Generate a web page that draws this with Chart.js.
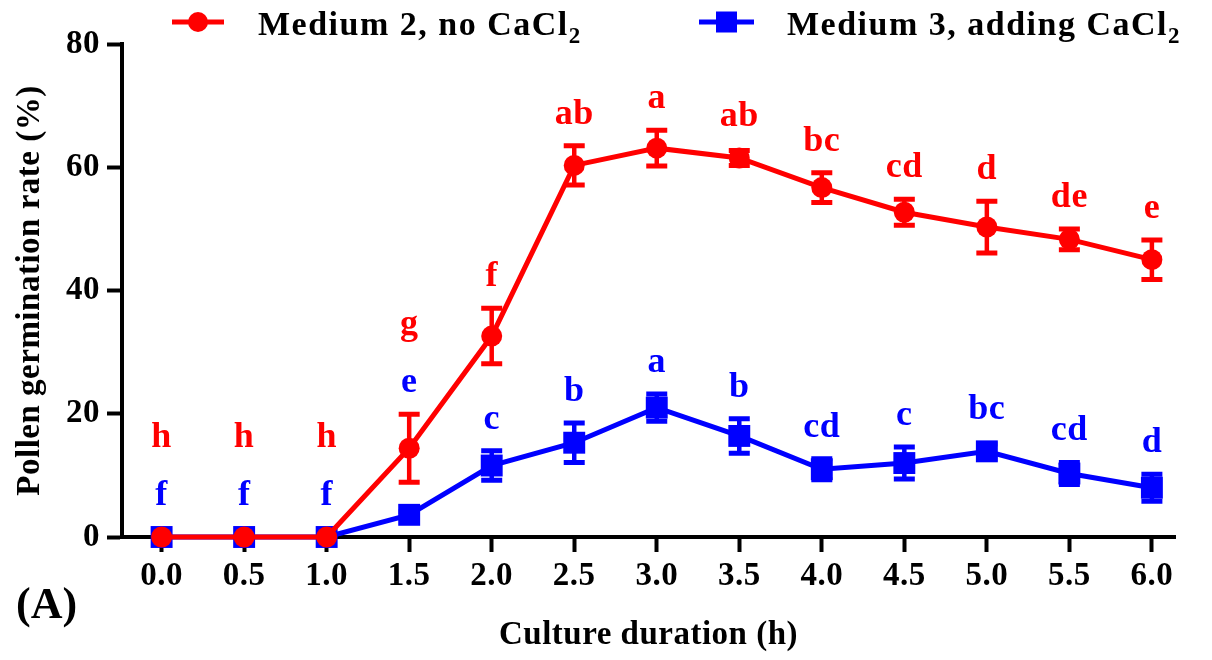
<!DOCTYPE html>
<html>
<head>
<meta charset="utf-8">
<script src="https://cdn.jsdelivr.net/npm/chart.js@4.4.1/dist/chart.umd.min.js"></script>
<style>
  html, body { margin: 0; padding: 0; background: #fff; }
  #wrap { width: 1212px; height: 660px; position: relative; }
</style>
</head>
<body>
<div id="wrap"><canvas id="c"></canvas></div>
<script>
// ---- data ----
const times = [0, 0.5, 1.0, 1.5, 2.0, 2.5, 3.0, 3.5, 4.0, 4.5, 5.0, 5.5, 6.0];
const xTickLabels = ['0.0','0.5','1.0','1.5','2.0','2.5','3.0','3.5','4.0','4.5','5.0','5.5','6.0'];
const yTickValues = [0, 20, 40, 60, 80];
const redMean = [0, 0, 0, 14.4, 32.6, 60.3, 63.1, 61.5, 56.7, 52.7, 50.3, 48.3, 45.0];
const redErr  = [0, 0, 0, 5.5, 4.5, 3.2, 2.9, 1.2, 2.4, 2.1, 4.2, 1.7, 3.2];
const blueMean = [0, 0, 0, 3.6, 11.6, 15.3, 21.0, 16.4, 11.0, 12.0, 13.9, 10.3, 8.0];
const blueErr  = [0, 0, 0, 0.5, 2.4, 3.2, 2.2, 2.8, 1.7, 2.6, 1.2, 1.8, 2.2];
const redLetters  = ['h','h','h','g','f','ab','a','ab','bc','cd','d','de','e'];
const blueLetters = ['f','f','f','e','c','b','a','b','cd','c','bc','cd','d'];
const redName = 'Medium 2, no CaCl';
const blueName = 'Medium 3, adding CaCl';
const subscript = '2';
const xTitle = 'Culture duration (h)';
const yTitle = 'Pollen germination rate (%)';
const panelTag = '(A)';

// ---- styles ----
const RED = '#ff0000';
const BLUE = '#0000ff';
const FAMILY = "'Liberation Serif', 'Times New Roman', serif";

const errorBars = {
  id: 'errorBars',
  afterDatasetDraw(chart, args) {
    const ds = chart.data.datasets[args.index];
    const errs = ds.errs;
    const ctx = chart.ctx;
    const ys = chart.scales.y;
    ctx.save();
    ctx.strokeStyle = ds.borderColor;
    ctx.lineCap = 'butt';
    args.meta.data.forEach((pt, i) => {
      const e = errs[i];
      if (!e) return;
      const v = ds.data[i].y;
      const yt = ys.getPixelForValue(v + e);
      const yb = ys.getPixelForValue(v - e);
      ctx.lineWidth = 4.5;
      ctx.beginPath();
      ctx.moveTo(pt.x, yt); ctx.lineTo(pt.x, yb);
      ctx.stroke();
      ctx.lineWidth = 5;
      ctx.beginPath();
      ctx.moveTo(pt.x - 10.5, yt); ctx.lineTo(pt.x + 10.5, yt);
      ctx.moveTo(pt.x - 10.5, yb); ctx.lineTo(pt.x + 10.5, yb);
      ctx.stroke();
    });
    ctx.restore();
  }
};

const annotations = {
  id: 'annotations',
  beforeDraw(chart) {
    chart.ctx.letterSpacing = '0.5px';
  },
  afterDraw(chart) {
    const ctx = chart.ctx;
    const xs = chart.scales.x, ys = chart.scales.y;
    const GAP = 22, LABEL_H = 28, STACK = 58, MARK = 10;
    ctx.save();
    ctx.textAlign = 'center';
    ctx.textBaseline = 'alphabetic';
    ctx.letterSpacing = '0.5px';
    ctx.font = 'bold 36px ' + FAMILY;
    times.forEach((t, i) => {
      const x = xs.getPixelForValue(t);
      const redTop = Math.min(ys.getPixelForValue(redMean[i] + redErr[i]), ys.getPixelForValue(redMean[i]) - MARK);
      const redBot = Math.max(ys.getPixelForValue(redMean[i] - redErr[i]), ys.getPixelForValue(redMean[i]) + MARK);
      const blueTop = Math.min(ys.getPixelForValue(blueMean[i] + blueErr[i]), ys.getPixelForValue(blueMean[i]) - MARK);
      let blueBase = blueTop - GAP;
      // keep the blue letter clear of the red error bar
      if (blueBase > redTop && blueBase - LABEL_H < redBot) blueBase = redTop - GAP;
      let redBase = redTop - GAP;
      if (redBase > blueBase - LABEL_H - 4) redBase = blueBase - STACK;
      ctx.fillStyle = BLUE;
      ctx.fillText(blueLetters[i], x, blueBase);
      ctx.fillStyle = RED;
      ctx.fillText(redLetters[i], x, redBase);
    });

    // legend
    const items = [
      { name: redName, color: RED, style: 'circle', x0: 172, x1: 224, tx: 258 },
      { name: blueName, color: BLUE, style: 'rect', x0: 699, x1: 754, tx: 787 }
    ];
    const ly = 22;
    items.forEach(it => {
      ctx.strokeStyle = it.color; ctx.fillStyle = it.color; ctx.lineWidth = 5;
      ctx.beginPath(); ctx.moveTo(it.x0, ly); ctx.lineTo(it.x1, ly); ctx.stroke();
      const cx = (it.x0 + it.x1) / 2;
      if (it.style === 'circle') {
        ctx.beginPath(); ctx.arc(cx, ly, 10, 0, Math.PI * 2); ctx.fill();
      } else {
        ctx.fillRect(cx - 10.5, ly - 10.5, 21, 21);
      }
      ctx.fillStyle = '#000';
      ctx.textAlign = 'left';
      ctx.letterSpacing = '1.5px';
      ctx.font = 'bold 34px ' + FAMILY;
      ctx.fillText(it.name, it.tx, 35);
      const w = ctx.measureText(it.name).width;
      ctx.font = 'bold 23px ' + FAMILY;
      ctx.fillText(subscript, it.tx + w, 43);
    });

    // panel tag
    ctx.letterSpacing = '0px';
    ctx.fillStyle = '#000';
    ctx.textAlign = 'left';
    ctx.font = 'bold 44px ' + FAMILY;
    ctx.fillText(panelTag, 16, 618);
    ctx.restore();
  }
};

const ctx = document.getElementById('c').getContext('2d');
new Chart(ctx, {
  type: 'line',
  data: {
    datasets: [
      {
        label: redName + subscript,
        data: times.map((t, i) => ({ x: t, y: redMean[i] })),
        errs: redErr,
        borderColor: RED,
        backgroundColor: RED,
        borderWidth: 5,
        pointStyle: 'circle',
        pointRadius: 10.5,
        pointBorderWidth: 0,
        pointBackgroundColor: RED,
        tension: 0,
        clip: false
      },
      {
        label: blueName + subscript,
        data: times.map((t, i) => ({ x: t, y: blueMean[i] })),
        errs: blueErr,
        borderColor: BLUE,
        backgroundColor: BLUE,
        borderWidth: 5,
        pointStyle: 'rect',
        pointRadius: 15.5,
        pointBorderWidth: 0,
        pointBackgroundColor: BLUE,
        tension: 0,
        clip: false
      }
    ]
  },
  options: {
    responsive: true,
    maintainAspectRatio: false,
    animation: false,
    devicePixelRatio: 1,
    layout: { padding: { left: 0, right: 37, top: 44, bottom: 0 } },
    plugins: {
      legend: { display: false },
      tooltip: { enabled: false }
    },
    scales: {
      x: {
        type: 'linear',
        min: -0.24,
        max: 6.14,
        afterBuildTicks: s => { s.ticks = times.map(v => ({ value: v })); },
        afterFit: s => { s.height = 123; },
        ticks: {
          includeBounds: false,
          autoSkip: false,
          maxRotation: 0,
          padding: 5,
          color: '#000',
          font: { family: FAMILY, size: 33, weight: 'bold' },
          callback: (v, i) => xTickLabels[i]
        },
        grid: { drawOnChartArea: false, drawTicks: true, tickLength: 15, tickWidth: 4, tickColor: '#000' },
        border: { display: true, width: 4, color: '#000' },
        title: {
          display: true, text: xTitle, color: '#000',
          font: { family: FAMILY, size: 33, weight: 'bold' },
          padding: { top: 0, bottom: 5 }
        }
      },
      y: {
        min: 0,
        max: 80,
        afterBuildTicks: s => { s.ticks = yTickValues.map(v => ({ value: v })); },
        afterFit: s => { s.width = 122; },
        ticks: {
          padding: 7,
          color: '#000',
          font: { family: FAMILY, size: 33, weight: 'bold' },
          callback: v => String(v)
        },
        grid: { drawOnChartArea: false, drawTicks: true, tickLength: 15, tickWidth: 4, tickColor: '#000' },
        border: { display: true, width: 4, color: '#000' },
        title: {
          display: true, text: yTitle, color: '#000',
          font: { family: FAMILY, size: 33, weight: 'bold' },
          padding: { top: 11, bottom: 0 }
        }
      }
    }
  },
  plugins: [errorBars, annotations]
});
</script>
</body>
</html>
